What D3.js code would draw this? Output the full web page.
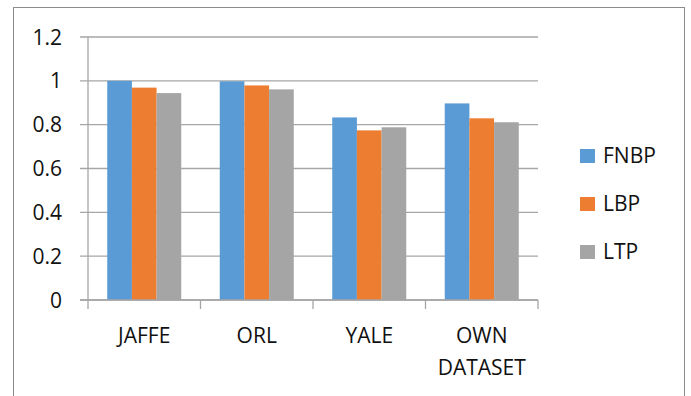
<!DOCTYPE html>
<html>
<head>
<meta charset="utf-8">
<script src="https://cdn.jsdelivr.net/npm/d3@7"></script>
<style>
  html, body { margin: 0; padding: 0; background: #fff; }
  svg { display: block; }
  text { font-family: "Open Sans", "Noto Sans", sans-serif; fill: #111; }
</style>
</head>
<body>
<svg id="chart" width="691" height="396"></svg>
<script>
// Recognition accuracy per dataset for each descriptor
const categories = ["JAFFE", "ORL", "YALE", "OWN DATASET"];
const seriesNames = ["FNBP", "LBP", "LTP"];
const fnbp = [1.0, 0.998, 0.833, 0.897];
const lbp  = [0.969, 0.979, 0.774, 0.829];
const ltp  = [0.944, 0.961, 0.788, 0.811];
const yTicks = [0, 0.2, 0.4, 0.6, 0.8, 1, 1.2];
const colors = ["#5B9BD5", "#ED7D31", "#A5A5A5"];

const series = [fnbp, lbp, ltp];
const rows = categories.map((c, i) => ({
  category: c,
  values: seriesNames.map((s, j) => ({ key: s, value: series[j][i] }))
}));

const svg = d3.select("#chart");
const plotLeft = 88, plotRight = 538, plotTop = 37, plotBottom = 300;

// outer frame
svg.append("rect")
  .attr("x", 13.5).attr("y", 7.5)
  .attr("width", 671).attr("height", 400)
  .attr("fill", "none").attr("stroke", "#8c8c8c").attr("stroke-width", 1);

const x = d3.scaleBand().domain(categories).range([plotLeft, plotRight]).paddingInner(0).paddingOuter(0);
const x1 = d3.scaleBand().domain(seriesNames).range([0, x.bandwidth()]).paddingInner(0).paddingOuter(0.78);
const y = d3.scaleLinear().domain([0, 1.2]).range([plotBottom, plotTop]);

// horizontal gridlines with left tick stubs
svg.append("g")
  .selectAll("line")
  .data(yTicks)
  .join("line")
  .attr("x1", plotLeft - 8).attr("x2", plotRight)
  .attr("y1", d => y(d)).attr("y2", d => y(d))
  .attr("stroke", "#a6a6a6").attr("stroke-width", 1.3);

// y tick labels
svg.append("g")
  .selectAll("text")
  .data(yTicks)
  .join("text")
  .attr("x", 62).attr("y", d => y(d))
  .attr("dy", "0.36em")
  .attr("text-anchor", "end")
  .attr("font-size", 21)
  .text(d => d3.format("")(d));

// bars
const groups = svg.append("g")
  .selectAll("g")
  .data(rows)
  .join("g")
  .attr("transform", d => `translate(${x(d.category)},0)`);

groups.selectAll("rect")
  .data(d => d.values)
  .join("rect")
  .attr("x", d => x1(d.key))
  .attr("width", x1.bandwidth())
  .attr("y", d => y(d.value))
  .attr("height", d => y(0) - y(d.value))
  .attr("fill", (d, i) => colors[i]);

// y axis line
svg.append("line")
  .attr("x1", plotLeft).attr("x2", plotLeft)
  .attr("y1", plotTop).attr("y2", plotBottom + 9)
  .attr("stroke", "#a6a6a6").attr("stroke-width", 1.3);

// x axis baseline and category separators
svg.append("line")
  .attr("x1", plotLeft - 8).attr("x2", plotRight)
  .attr("y1", plotBottom).attr("y2", plotBottom)
  .attr("stroke", "#a6a6a6").attr("stroke-width", 1.3);

const boundaries = categories.map(c => x(c) + x.bandwidth());
svg.append("g")
  .selectAll("line")
  .data(boundaries)
  .join("line")
  .attr("x1", d => d).attr("x2", d => d)
  .attr("y1", plotBottom).attr("y2", plotBottom + 9)
  .attr("stroke", "#a6a6a6").attr("stroke-width", 1.3);

// category labels, split onto separate lines per word
const catLabels = svg.append("g")
  .selectAll("text")
  .data(categories)
  .join("text")
  .attr("x", d => x(d) + x.bandwidth() / 2)
  .attr("y", 343)
  .attr("text-anchor", "middle")
  .attr("font-size", 21);

catLabels.each(function(d) {
  const words = d.split(" ");
  const t = d3.select(this);
  words.forEach((w, i) => {
    t.append("tspan")
      .attr("x", x(d) + x.bandwidth() / 2)
      .attr("dy", i === 0 ? 0 : 32)
      .text(w);
  });
});

// legend
const legend = svg.append("g")
  .selectAll("g")
  .data(seriesNames)
  .join("g")
  .attr("transform", (d, i) => `translate(580,${149 + i * 48})`);

legend.append("rect")
  .attr("width", 15).attr("height", 14)
  .attr("fill", (d, i) => colors[i]);

legend.append("text")
  .attr("x", 23).attr("y", 14)
  .attr("font-size", 21)
  .text(d => d);
</script>
</body>
</html>
